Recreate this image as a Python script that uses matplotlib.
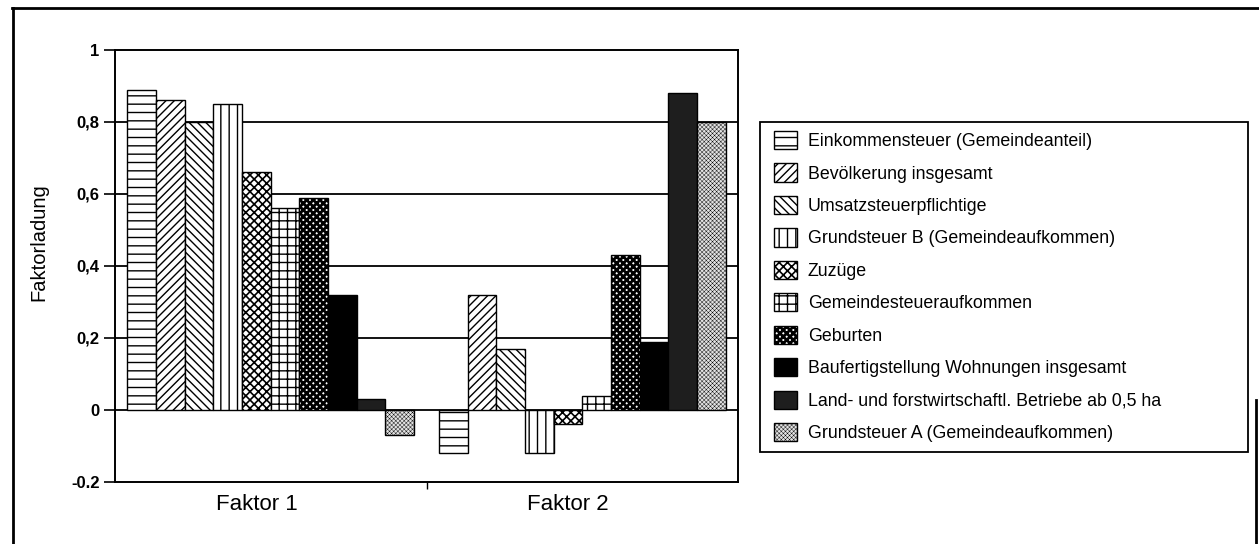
import matplotlib
matplotlib.use("Agg")
import matplotlib.pyplot as plt
import matplotlib.transforms as mtransforms
from matplotlib.patches import Rectangle
from matplotlib.lines import Line2D
import numpy as np

plt.rcParams['font.family'] = ['Liberation Sans', 'DejaVu Sans']

# ---- data -------------------------------------------------------------
factors = ["Faktor 1", "Faktor 2"]

variables = [
    "Einkommensteuer (Gemeindeanteil)",
    "Bevölkerung insgesamt",
    "Umsatzsteuerpflichtige",
    "Grundsteuer B (Gemeindeaufkommen)",
    "Zuzüge",
    "Gemeindesteueraufkommen",
    "Geburten",
    "Baufertigstellung Wohnungen insgesamt",
    "Land- und forstwirtschaftl. Betriebe ab 0,5 ha",
    "Grundsteuer A (Gemeindeaufkommen)",
]

loadings_f1 = [0.89, 0.86, 0.80, 0.85, 0.66, 0.56, 0.59, 0.32, 0.03, -0.07]
loadings_f2 = [-0.12, 0.32, 0.17, -0.12, -0.04, 0.04, 0.43, 0.19, 0.88, 0.80]

y_ticks = [-0.2, 0.0, 0.2, 0.4, 0.6, 0.8, 1.0]
y_tick_labels = ["-0.2", "0", "0,2", "0,4", "0,6", "0,8", "1"]

# fill patterns for the ten variables (black & white print style)
fills = [
    dict(fc="white",   hatch="--",        hlw=1.0),
    dict(fc="white",   hatch="////",      hlw=1.0),
    dict(fc="white",   hatch="\\\\\\\\",  hlw=1.0),
    dict(fc="white",   hatch="||",        hlw=1.0),
    dict(fc="white",   hatch="xxxx",      hlw=1.2),
    dict(fc="white",   hatch="++",        hlw=1.0),
    dict(fc="white",   hatch="xxxxx",     hlw=2.0),
    dict(fc="black",   hatch=None,        hlw=1.0),
    dict(fc="#1e1e1e", hatch=None,        hlw=1.0),
    dict(fc="#e2e2e2", hatch="xxxxxxxx",  hlw=0.3),
]

# ---- figure -----------------------------------------------------------
W, H = 1259, 544
fig = plt.figure(figsize=(W / 100, H / 100), dpi=100)
fig.patch.set_facecolor("white")


def fx(px):
    return px / W


def fy(py):
    return 1 - py / H


ax = fig.add_axes([fx(115), fy(482), fx(738) - fx(115), fy(50) - fy(482)])

n = len(variables)
group = 0.92
width = group / n
x = np.arange(len(factors))

handles = []
for i, (name, st) in enumerate(zip(variables, fills)):
    vals = [loadings_f1[i], loadings_f2[i]]
    with plt.rc_context({"hatch.linewidth": st["hlw"]}):
        bars = ax.bar(x - group / 2 + width * (i + 0.5), vals, width,
                      facecolor=st["fc"], edgecolor="black", linewidth=1.0,
                      hatch=st["hatch"], zorder=3, label=name)
    for p in bars:
        if hasattr(p, "set_hatch_linewidth"):
            p.set_hatch_linewidth(st["hlw"])
    handles.append(bars)

ax.set_xlim(-0.5, 1.5)
ax.set_ylim(-0.2, 1.0)

# horizontal gridlines and zero line
for yv in [0.2, 0.4, 0.6, 0.8]:
    ax.axhline(yv, color="black", lw=1.3, zorder=1)
ax.axhline(0, color="black", lw=1.3, zorder=2)

for sp in ax.spines.values():
    sp.set_color("black")
    sp.set_linewidth(1.4)

ax.set_yticks(y_ticks)
ax.set_yticklabels(y_tick_labels, fontsize=12, fontweight="bold")
ax.tick_params(axis="y", direction="out", length=8, width=1.2, pad=3)

ax.set_xticks(x)
ax.set_xticklabels(factors, fontsize=16)
ax.tick_params(axis="x", which="major", length=0, pad=9)
ax.set_xticks([0.5], minor=True)
ax.tick_params(axis="x", which="minor", direction="out", length=5, width=1.0)
shift = mtransforms.ScaledTranslation(-14 / 100, 0, fig.dpi_scale_trans)
for lbl in ax.get_xticklabels():
    lbl.set_transform(lbl.get_transform() + shift)

fig.text(fx(39), fy(242), "Faktorladung", rotation=90, ha="center",
         va="center", fontsize=14.5)

# legend with its own square frame
leg = fig.legend(handles, variables, loc="upper left",
                 bbox_to_anchor=(fx(774), fy(131)), frameon=False,
                 fontsize=12.8, handlelength=1.3, handleheight=1.2,
                 handletextpad=0.6, labelspacing=0.75, borderpad=0,
                 borderaxespad=0)
for h, st in zip(leg.legend_handles, fills):
    if hasattr(h, "set_hatch_linewidth"):
        h.set_hatch_linewidth(st["hlw"])

fig.add_artist(Rectangle((fx(760), fy(452)), fx(1248) - fx(760),
                         fy(122) - fy(452), transform=fig.transFigure,
                         fill=False, ec="black", lw=1.3))

# outer frame lines
lw_frame = 2.0
fig.add_artist(Line2D([fx(12), fx(1259)], [fy(8), fy(8)], color="black",
                      lw=lw_frame, transform=fig.transFigure))
fig.add_artist(Line2D([fx(13), fx(13)], [fy(8), fy(544)], color="black",
                      lw=lw_frame, transform=fig.transFigure))
fig.add_artist(Line2D([fx(1256), fx(1256)], [fy(400), fy(544)], color="black",
                      lw=lw_frame, transform=fig.transFigure))

fig.savefig("out.png", dpi=100, facecolor="white")
